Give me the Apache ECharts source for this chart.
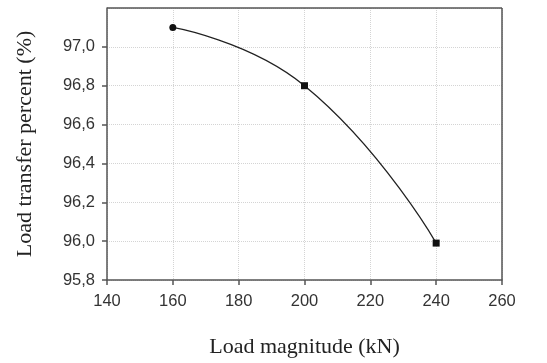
<!DOCTYPE html>
<html>
<head>
<meta charset="utf-8">
<script src="https://cdn.jsdelivr.net/npm/echarts@6/dist/echarts.min.js"></script>
<style>
  html, body { margin: 0; padding: 0; background: #fff; }
  #main { width: 547px; height: 363px; }
</style>
</head>
<body>
<div id="main"></div>
<script>
// values
var loads = [160, 200, 240];
var transfer = [97.1, 96.8, 95.99];
var xTicks = [140, 160, 180, 200, 220, 240, 260];
var yTicks = [95.8, 96.0, 96.2, 96.4, 96.6, 96.8, 97.0];

var chartDom = document.getElementById("main");
var myChart = echarts.init(chartDom);

var points = loads.map(function (x, i) {
  return [x, transfer[i]];
});

var tickFont = {
  fontFamily: "Liberation Sans, Arial, sans-serif",
  fontSize: 16.5,
  color: "#333",
};

var titleFont = {
  fontFamily: "Liberation Serif, Times New Roman, serif",
  fontSize: 22,
  color: "#222",
};

var option = {
  animation: false,
  grid: { left: 107, right: 45, top: 8, bottom: 83 },
  xAxis: {
    type: "value",
    min: xTicks[0],
    max: xTicks[xTicks.length - 1],
    interval: 20,
    name: "Load magnitude (kN)",
    nameLocation: "middle",
    nameGap: 56,
    nameTextStyle: titleFont,
    axisLine: { lineStyle: { color: "#555", width: 1.5 } },
    axisTick: { show: true, inside: false, length: 5, lineStyle: { color: "#555", width: 1.5 } },
    axisLabel: Object.assign({ margin: 13 }, tickFont),
    splitLine: { show: true, lineStyle: { color: "#d4d4d4", type: "dotted", width: 1 } },
  },
  yAxis: {
    type: "value",
    min: 95.8,
    max: 97.2,
    interval: 0.2,
    name: "Load transfer percent (%)",
    nameLocation: "middle",
    nameGap: 71,
    nameTextStyle: titleFont,
    axisLine: { show: true, lineStyle: { color: "#555", width: 1.5 } },
    axisTick: { show: true, inside: false, length: 5, lineStyle: { color: "#555", width: 1.5 } },
    axisLabel: Object.assign(
      {
        margin: 12,
        showMaxLabel: false,
        formatter: function (v) {
          var t = yTicks.find(function (y) { return Math.abs(y - v) < 1e-6; });
          return t === undefined ? "" : t.toFixed(1).replace(".", ",");
        },
      },
      tickFont
    ),
    splitLine: { show: true, lineStyle: { color: "#d4d4d4", type: "dotted", width: 1 } },
  },
  series: [
    {
      type: "line",
      data: points,
      smooth: 0.5,
      symbol: function (v, params) {
        return params.dataIndex === 0 ? "circle" : "rect";
      },
      symbolSize: 7,
      lineStyle: { color: "#222", width: 1.3 },
      itemStyle: { color: "#111" },
    },
    {
      // box frame on top and right
      type: "line",
      data: [],
      markLine: {
        silent: true,
        symbol: "none",
        label: { show: false },
        lineStyle: { color: "#555", width: 1.5, type: "solid" },
        data: [{ yAxis: 97.2 }, { xAxis: 260 }],
      },
    },
  ],
};

option && myChart.setOption(option);
</script>
</body>
</html>
